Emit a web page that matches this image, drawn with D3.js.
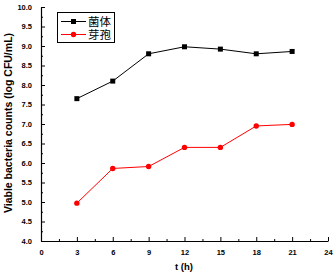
<!DOCTYPE html>
<html>
<head>
<meta charset="utf-8">
<script src="https://cdn.jsdelivr.net/npm/d3@7"></script>
<style>
  body { margin: 0; background: #fff; }
  svg { display: block; }
  .tick text { font-family: "Liberation Sans", Arial, sans-serif; font-weight: bold; font-size: 7.5px; }
</style>
</head>
<body>
<script>
// sampling times (h)
var hours = [3, 6, 9, 12, 15, 18, 21];
// log CFU/mL
var cellCounts = [7.65, 8.10, 8.80, 8.98, 8.92, 8.80, 8.86];
var sporeCounts = [4.97, 5.86, 5.91, 6.40, 6.40, 6.95, 6.99];
var seriesNames = ["菌体", "芽孢"];
var xTicks = [0, 3, 6, 9, 12, 15, 18, 21, 24];
var yTicks = [4.0, 4.5, 5.0, 5.5, 6.0, 6.5, 7.0, 7.5, 8.0, 8.5, 9.0, 9.5, 10.0];

var width = 335, height = 273;

var svg = d3.select("body").append("svg")
    .attr("width", width)
    .attr("height", height);

var x = d3.scaleLinear().domain([0, 24]).range([41, 328]);
var y = d3.scaleLinear().domain([4, 10]).range([241, 7]);

// minor ticks first so major ones sit on top
var xMinor = d3.range(1.5, 24, 3);
var yMinor = d3.range(4.25, 10, 0.5);

svg.append("g")
    .attr("transform", "translate(0,241)")
    .call(d3.axisBottom(x).tickValues(xMinor).tickSize(-2).tickFormat(""))
    .call(function(g) { g.select(".domain").remove(); });

svg.append("g")
    .attr("transform", "translate(41,0)")
    .call(d3.axisLeft(y).tickValues(yMinor).tickSize(-2).tickFormat(""))
    .call(function(g) { g.select(".domain").remove(); });

var xAxis = svg.append("g")
    .attr("transform", "translate(0,241)")
    .call(d3.axisBottom(x).tickValues(xTicks).tickSize(-4).tickPadding(9).tickSizeOuter(0).tickFormat(d3.format("d")));

var yAxis = svg.append("g")
    .attr("transform", "translate(41,0)")
    .call(d3.axisLeft(y).tickValues(yTicks).tickSize(-4).tickPadding(9).tickSizeOuter(0).tickFormat(d3.format(".1f")));

svg.selectAll(".domain").attr("stroke", "#000").attr("stroke-width", 1.2);
svg.selectAll(".tick line").attr("stroke", "#000");

// axis titles
svg.append("text")
    .attr("x", 184)
    .attr("y", 270)
    .attr("text-anchor", "middle")
    .style("font-family", "Liberation Sans, Arial, sans-serif")
    .style("font-weight", "bold")
    .style("font-size", "9.5px")
    .text("t (h)");

svg.append("text")
    .attr("transform", "translate(12,123) rotate(-90)")
    .attr("text-anchor", "middle")
    .style("font-family", "Liberation Sans, Arial, sans-serif")
    .style("font-weight", "bold")
    .style("font-size", "10.5px")
    .text("Viable bacteria counts (log CFU/mL)");

var line = d3.line()
    .x(function(d) { return x(d[0]); })
    .y(function(d) { return y(d[1]); });

var cellData = hours.map(function(h, i) { return [h, cellCounts[i]]; });
var sporeData = hours.map(function(h, i) { return [h, sporeCounts[i]]; });

svg.append("path")
    .datum(cellData)
    .attr("d", line)
    .attr("fill", "none")
    .attr("stroke", "#000")
    .attr("stroke-width", 1);

svg.selectAll(".cell")
    .data(cellData)
    .enter()
    .append("rect")
    .attr("x", function(d) { return x(d[0]) - 2.5; })
    .attr("y", function(d) { return y(d[1]) - 2.5; })
    .attr("width", 5)
    .attr("height", 5)
    .attr("fill", "#000");

svg.append("path")
    .datum(sporeData)
    .attr("d", line)
    .attr("fill", "none")
    .attr("stroke", "#ff0000")
    .attr("stroke-width", 1);

svg.selectAll(".spore")
    .data(sporeData)
    .enter()
    .append("circle")
    .attr("cx", function(d) { return x(d[0]); })
    .attr("cy", function(d) { return y(d[1]); })
    .attr("r", 2.7)
    .attr("fill", "#ff0000");

// legend
var legend = svg.append("g");
legend.append("rect")
    .attr("x", 57.5)
    .attr("y", 12.5)
    .attr("width", 57)
    .attr("height", 30)
    .attr("fill", "#fff")
    .attr("stroke", "#000")
    .attr("stroke-width", 1);

var colors = ["#000", "#ff0000"];
seriesNames.forEach(function(name, i) {
    var cy = 21.5 + i * 13;
    legend.append("line")
        .attr("x1", 61).attr("x2", 86)
        .attr("y1", cy).attr("y2", cy)
        .attr("stroke", colors[i]);
    if (i === 0) {
        legend.append("rect")
            .attr("x", 73.5 - 2.5).attr("y", cy - 2.5)
            .attr("width", 5).attr("height", 5)
            .attr("fill", colors[i]);
    } else {
        legend.append("circle")
            .attr("cx", 73.5).attr("cy", cy).attr("r", 2.7)
            .attr("fill", colors[i]);
    }
    legend.append("text")
        .attr("x", 88)
        .attr("y", cy + 4.5)
        .style("font-family", "Noto Sans CJK SC, sans-serif")
        .style("font-size", "11.5px")
        .text(name);
});
</script>
</body>
</html>
